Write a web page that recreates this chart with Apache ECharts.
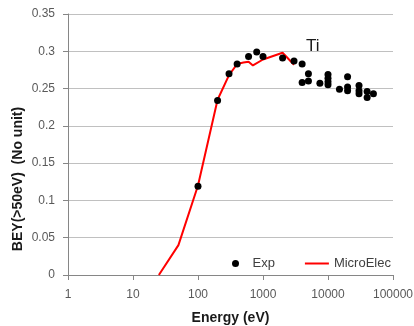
<!DOCTYPE html>
<html>
<head>
<meta charset="utf-8">
<script src="https://cdn.jsdelivr.net/npm/echarts@6/dist/echarts.min.js"></script>
<style>
  html, body { margin: 0; padding: 0; background: #fff; }
  #chart { width: 414px; height: 326px; }
</style>
</head>
<body>
<div id="chart"></div>
<script>
// measured points (energy eV, BEY)
var expEnergy = [100, 200, 300, 400, 600, 800, 1000, 2000, 3000, 4000, 4000, 5000, 5000, 7500,
                 10000, 10000, 10000, 10000, 15000, 20000, 20000, 20000, 30000, 30000, 30000, 40000, 40000, 50000];
var expBey    = [0.119, 0.234, 0.270, 0.283, 0.293, 0.299, 0.293, 0.291, 0.287, 0.283, 0.258, 0.270, 0.260, 0.257,
                 0.269, 0.264, 0.259, 0.255, 0.249, 0.266, 0.252, 0.247, 0.254, 0.247, 0.243, 0.246, 0.238, 0.243];

// simulation curve
var simEnergy = [25, 50, 100, 200, 300, 400, 500, 600, 700, 1000, 2000, 3000];
var simBey    = [0, 0.040, 0.120, 0.235, 0.268, 0.283, 0.285, 0.286, 0.281, 0.289, 0.298, 0.282];

var xTicks = [1, 10, 100, 1000, 10000, 100000];
var yTicks = [0, 0.05, 0.1, 0.15, 0.2, 0.25, 0.3, 0.35];

function pairs(xs, ys) {
    return xs.map(function (x, i) { return [x, ys[i]]; });
}

var font = 'Liberation Sans';

echarts.init(document.getElementById('chart')).setOption({
    animation: false,
    textStyle: { fontFamily: font },
    grid: { left: 68, right: 21, top: 14, bottom: 51, containLabel: false, outerBoundsMode: 'none' },
    legend: {
        left: 227,
        top: 252,
        itemGap: 30,
        itemWidth: 24,
        itemHeight: 7,
        textStyle: { fontSize: 13, color: '#404040' },
        data: [
            { name: 'Exp', icon: 'circle' },
            { name: 'MicroElec', icon: 'path://M0,0L24,0L24,2L0,2Z' }
        ]
    },
    xAxis: {
        type: 'log',
        logBase: 10,
        min: xTicks[0],
        max: xTicks[xTicks.length - 1],
        name: 'Energy (eV)',
        nameLocation: 'middle',
        nameGap: 36,
        nameTextStyle: { fontSize: 14, fontWeight: 'bold', color: '#1a1a1a' },
        axisLine: { lineStyle: { color: '#868686' } },
        axisTick: { show: true, length: 5, lineStyle: { color: '#868686' } },
        axisLabel: {
            fontSize: 12, color: '#595959', margin: 14,
            formatter: function (v) { return String(Math.round(v)); }
        },
        splitLine: { show: false },
        minorSplitLine: { show: false }
    },
    yAxis: {
        type: 'value',
        min: yTicks[0],
        max: yTicks[yTicks.length - 1],
        interval: 0.05,
        axisLine: { show: true, lineStyle: { color: '#868686' } },
        axisTick: { show: true, length: 5, lineStyle: { color: '#868686' } },
        axisLabel: {
            fontSize: 12, color: '#595959', margin: 13,
            formatter: function (v) { return String(+v.toFixed(2)); }
        },
        splitLine: { lineStyle: { color: '#c0c0c0' } }
    },
    graphic: [
        {
            type: 'text',
            x: 18, y: 179,
            rotation: Math.PI / 2,
            style: {
                text: 'BEY(>50eV)  (No unit)',
                font: 'bold 14px ' + font,
                fill: '#1a1a1a',
                align: 'center',
                verticalAlign: 'middle'
            }
        },
        {
            type: 'text',
            left: 306, top: 38,
            style: { text: 'Ti', font: '17px ' + font, fill: '#1a1a1a' }
        }
    ],
    series: [
        {
            name: 'MicroElec',
            type: 'line',
            data: pairs(simEnergy, simBey),
            symbol: 'none',
            lineStyle: { color: '#ff0000', width: 2 },
            itemStyle: { color: '#ff0000' },
            z: 2
        },
        {
            name: 'Exp',
            type: 'scatter',
            data: pairs(expEnergy, expBey),
            symbol: 'circle',
            symbolSize: 7,
            itemStyle: { color: '#000', opacity: 1 },
            z: 3
        }
    ]
});
</script>
</body>
</html>
